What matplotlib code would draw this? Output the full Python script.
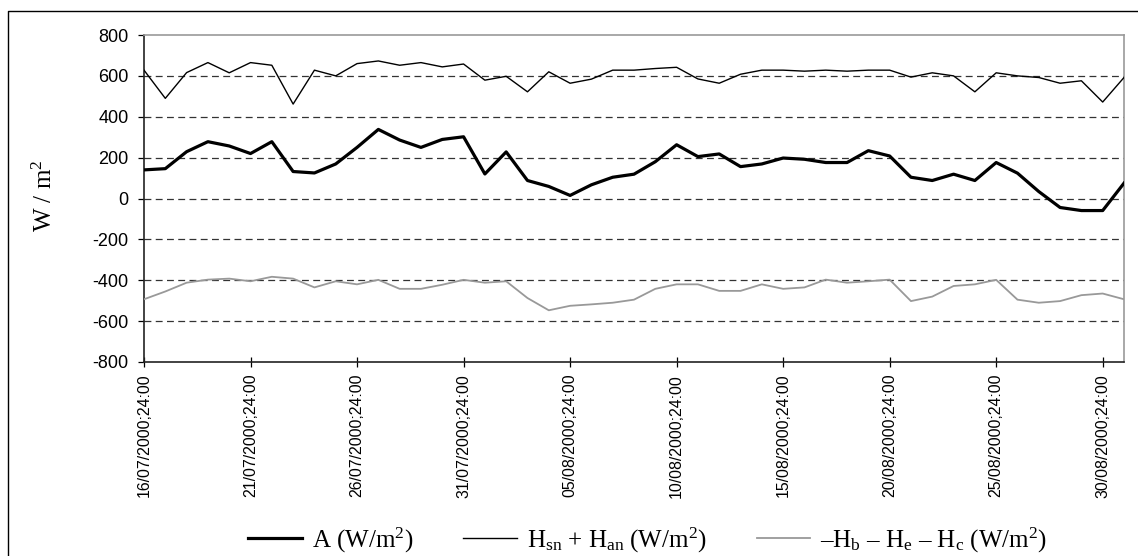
import matplotlib
matplotlib.use("Agg")
import matplotlib.pyplot as plt
from matplotlib.lines import Line2D

plt.rcParams["mathtext.fontset"] = "custom"
plt.rcParams["mathtext.rm"] = "Liberation Serif"
plt.rcParams["mathtext.it"] = "Liberation Serif:italic"

# Daily values, 16/07/2000 .. 31/08/2000 (one value per day)
a_flux = [140, 146, 229, 278, 257, 220, 278, 132, 125, 169, 250, 338, 286, 250, 289,
          302, 120, 228, 88, 59, 15, 67, 104, 119, 180, 263, 205, 218, 156, 169, 198,
          192, 176, 176, 234, 208, 104, 88, 119, 88, 176, 124, 34, -44, -59, -59, 75]
h_in = [628, 490, 616, 665, 615, 665, 652, 462, 628, 600, 660, 673, 652, 665, 644,
        658, 579, 598, 522, 620, 564, 584, 628, 628, 636, 642, 585, 564, 608, 628, 628,
        623, 628, 623, 628, 628, 594, 615, 600, 522, 615, 600, 592, 564, 576, 472, 592]
h_out = [-493, -455, -412, -397, -392, -405, -383, -392, -435, -405, -420, -398, -442, -442, -422,
         -398, -412, -405, -487, -547, -525, -518, -510, -495, -442, -420, -420, -452, -452, -420, -442,
         -435, -397, -412, -405, -397, -502, -480, -428, -420, -398, -495, -510, -502, -473, -465, -493]
days = list(range(len(a_flux)))

tick_days = [0, 5, 10, 15, 20, 25, 30, 35, 40, 45]
tick_labels = ["16/07/2000;24:00", "21/07/2000;24:00", "26/07/2000;24:00",
               "31/07/2000;24:00", "05/08/2000;24:00", "10/08/2000;24:00",
               "15/08/2000;24:00", "20/08/2000;24:00", "25/08/2000;24:00",
               "30/08/2000;24:00"]
y_ticks = [-800, -600, -400, -200, 0, 200, 400, 600, 800]

W, H = 1138, 556
fig = plt.figure(figsize=(W / 100, H / 100), dpi=100)
ax = fig.add_axes([144 / W, 1 - 362 / H, (1124 - 144) / W, (362 - 35) / H])

# horizontal dashed grid
for yv in y_ticks[1:-1]:
    ax.axhline(yv, color="#333333", lw=0.9, dashes=(5.5, 3.5), zorder=1)

l1, = ax.plot(days, a_flux, color="black", lw=2.3, label=r"A (W/m$^2$)", zorder=3)
l2, = ax.plot(days, h_in, color="black", lw=1.0,
              label=r"H$_{\mathrm{sn}}$ + H$_{\mathrm{an}}$ (W/m$^2$)", zorder=3)
l3, = ax.plot(days, h_out, color="#999999", lw=1.3,
              label=r"–H$_{\mathrm{b}}$ – H$_{\mathrm{e}}$ – H$_{\mathrm{c}}$ (W/m$^2$)", zorder=3)

ax.set_xlim(0, 46)
ax.set_ylim(-800, 800)
ax.set_yticks(y_ticks)
ax.set_yticklabels([str(v) for v in y_ticks], family="Liberation Sans", fontsize=13)
ax.set_xticks(tick_days)
ax.set_xticklabels(tick_labels, rotation=90, family="Liberation Sans", fontsize=11.4)
ax.tick_params(axis="y", direction="out", length=4.5, width=0.9, pad=6.5, colors="black")
ax.tick_params(axis="x", direction="inout", length=7, width=0.9, pad=5, colors="black")

for side in ("top", "right"):
    ax.spines[side].set_color("#999999")
    ax.spines[side].set_linewidth(1.2)
for side in ("left", "bottom"):
    ax.spines[side].set_color("#222222")
    ax.spines[side].set_linewidth(1.2)

ax.set_ylabel(r"W / m$^2$", family="Liberation Serif", fontsize=18)
ax.yaxis.set_label_coords((57 - 144) / 980, (362 - 196) / 327)

fig.legend(handles=[l1, l2, l3], loc="center left", bbox_to_anchor=(248 / W, 1 - 540 / H),
           ncol=3, frameon=False, prop={"family": "Liberation Serif", "size": 18},
           handlelength=2.15, handletextpad=0.4, columnspacing=2.0,
           borderpad=0, borderaxespad=0)

# outer frame
fig.add_artist(Line2D([8 / W, 8 / W, 1.0], [0, 1 - 11 / H, 1 - 11 / H],
                      transform=fig.transFigure, color="black", lw=1.0))

fig.savefig("out.png", dpi=100)
